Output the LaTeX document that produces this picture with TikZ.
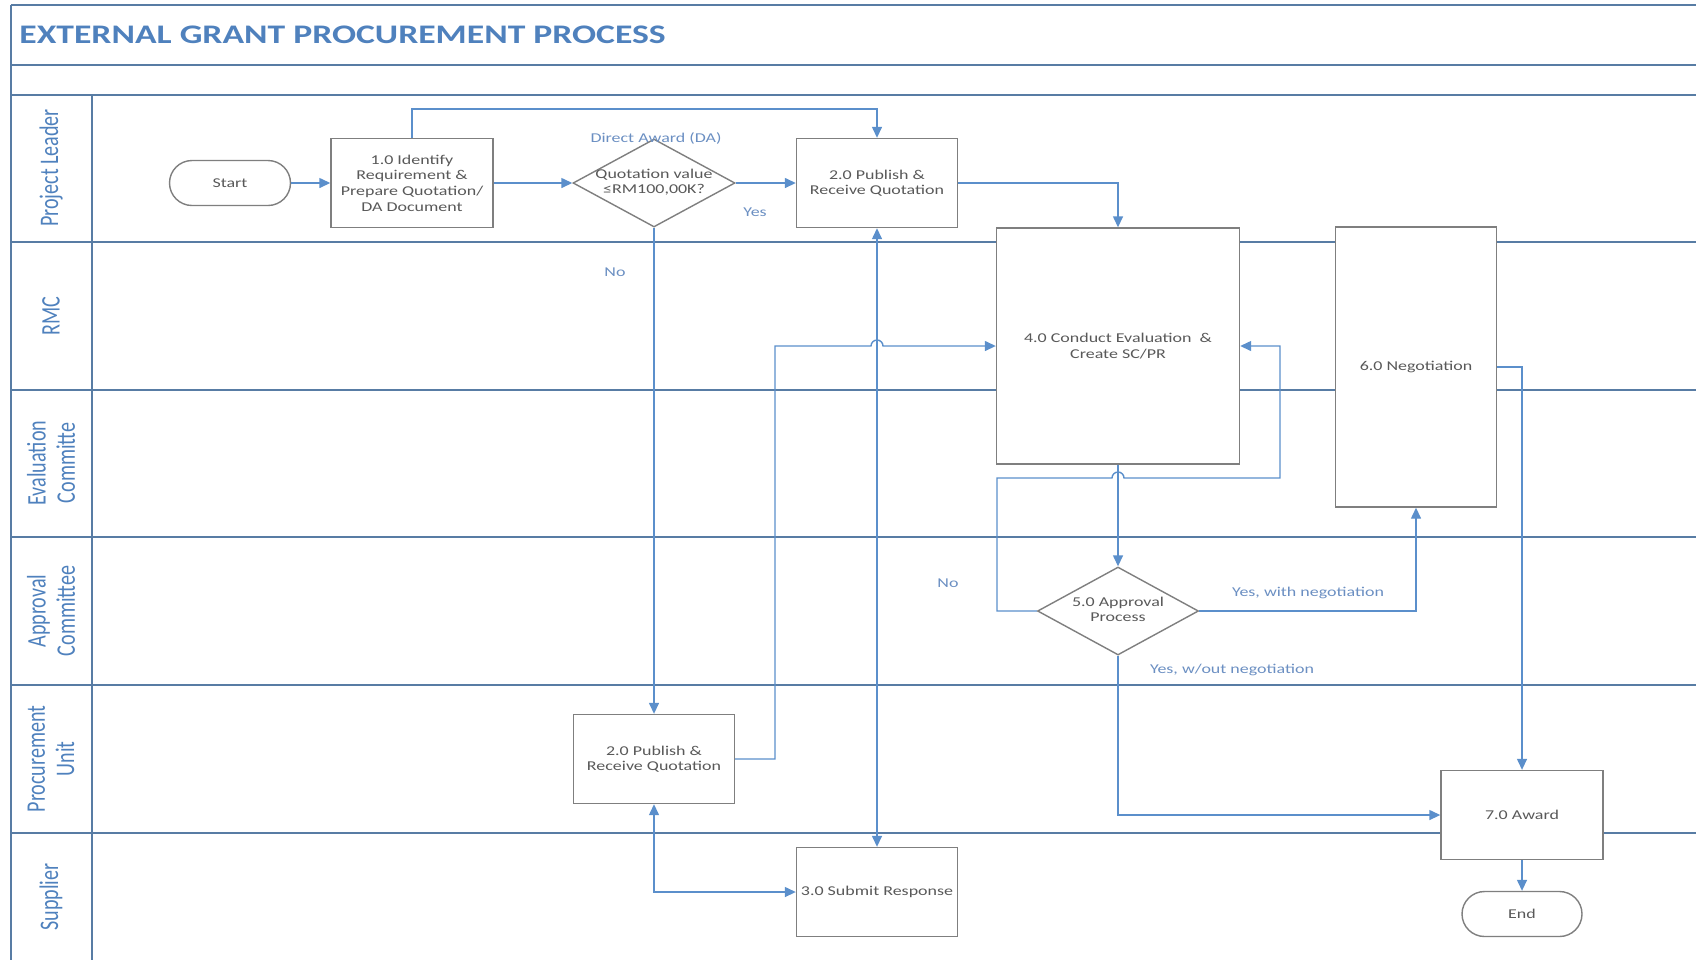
\documentclass[tikz,border=0pt]{standalone}
\usepackage{fontspec}
\usepackage{tikz}
\usetikzlibrary{positioning}
\usetikzlibrary{arrows.meta}
\usetikzlibrary{shapes.geometric,calc}

\newfontfamily\flowfamily{Carlito}[FakeStretch=1.33]
\newfontfamily\lanefamily{Carlito}[FakeStretch=0.75]
\newcommand{\flowfont}{\flowfamily\fontsize{6.75}{7.8}\selectfont}
\newcommand{\lanefont}{\lanefamily\fontsize{13.4}{14.6}\selectfont}
\newcommand{\titlefont}{\flowfamily\bfseries\fontsize{13.4}{16}\selectfont}

\definecolor{laneblue}{HTML}{587CA4}
\definecolor{titleblue}{HTML}{4F81BD}
\definecolor{flowblue}{HTML}{5B8FCB}
\definecolor{boxgrey}{HTML}{7F7F7F}
\definecolor{textgrey}{HTML}{595959}
\definecolor{labelblue}{HTML}{6B8FC2}

\tikzset{
  process/.style={draw=boxgrey, line width=0.7pt, fill=white, text=textgrey,
    font=\flowfont, align=center, inner sep=0pt,
    minimum width=80.5pt, minimum height=44.5pt},
  decision/.style={process, diamond, minimum width=80.5pt, minimum height=44pt},
  terminal/.style={process, rounded corners=11.25pt,
    minimum width=60.5pt, minimum height=22.5pt},
  flow/.style={draw=flowblue, line width=0.7pt, -{Triangle[length=5.5pt,width=5pt]}},
  twoway/.style={flow, {Triangle[length=5.5pt,width=5pt]}-{Triangle[length=5.5pt,width=5pt]}},
  lane/.style={draw=laneblue, line width=1pt},
  flowlabel/.style={text=labelblue, font=\flowfont, inner sep=0pt},
  lanelabel/.style={text=titleblue, font=\lanefont, align=center, rotate=90, inner sep=0pt}
}

\begin{document}
\begin{tikzpicture}[x=0.5pt, y=-0.5pt]

      \useasboundingbox (0,0) rectangle (1696,960);

      % frame and swimlanes
      \draw[lane] (11,5) -- (1696,5);
      \draw[lane] (11,65) -- (1696,65);
      \foreach \LaneY in {95,242,390,537,685,833} {
        \draw[lane] (11,\LaneY) -- (1696,\LaneY);
      }
      \draw[lane] (11,5) -- (11,960);
      \draw[lane] (92,95) -- (92,960);

      \node (title) at (19,35) [anchor=west, text=titleblue, font=\titlefont, inner sep=0pt]
        {EXTERNAL GRANT PROCUREMENT PROCESS};

      \node (laneLeader)   at (51,168) [lanelabel] {Project Leader};
      \node (laneRMC)      at (51,316) [lanelabel] {RMC};
      \node (laneEval)     at (51,463) [lanelabel] {Evaluation\\Committe};
      \node (laneApproval) at (51,611) [lanelabel] {Approval\\Committee};
      \node (laneProcure)  at (51,759) [lanelabel] {Procurement\\Unit};
      \node (laneSupplier) at (51,897) [lanelabel] {Supplier};

      % steps
      \node (start)    at (230,183)  [terminal] {Start};
      \node (ident)    at (412,183)  [process, minimum width=81pt]
        {1.0 Identify\\Requirement \&\\Prepare Quotation/\\DA Document};
      \node (quote)    at (654,183)  [decision, minimum width=81pt]
        {\makebox[0pt]{\begin{tabular}{@{}c@{}}Quotation value\\≤RM100,00K?\end{tabular}}};
      \node (pub)      at (877,183)  [process] {2.0 Publish \&\\Receive Quotation};
      \node (evalbox)  at (1118,346) [process, minimum width=121.5pt, minimum height=118pt]
        {4.0 Conduct Evaluation \ \&\\Create SC/PR};
      \node (nego)     at (1416,367) [process, minimum height=140pt] {6.0 Negotiation};
      \node (approve)  at (1118,611) [decision]
        {\makebox[0pt]{\begin{tabular}{@{}c@{}}5.0 Approval\\Process\end{tabular}}};
      \node (pubproc)  at (654,759)  [process] {2.0 Publish \&\\Receive Quotation};
      \node (submit)   at (877,892)  [process] {3.0 Submit Response};
      \node (award)    at (1522,815) [process, minimum width=81pt] {7.0 Award};
      \node (finish)   at (1522,914) [terminal, minimum width=60pt] {End};

      % connectors
      \coordinate (daTop)  at (412,109);
      \coordinate (bendA)  at (775,346);
      \coordinate (loopA)  at (997,478);
      \coordinate (loopB)  at (1280,478);

      \draw[flow] (start) -- (ident);
      \draw[flow] (ident) -- (quote);
      \draw[flow] (quote) -- (pub);
      \draw[flow] (ident.north) -- (daTop) -| (pub.north);
      \draw[flow] (quote.south) -- (pubproc.north);
      \draw[twoway] (pub.south) -- (submit.north);
      \draw[twoway] (pubproc.south) |- (submit.west);
      \draw[flow] (pubproc.east) -| (bendA)
        -- ($(pub.south |- bendA)+(-6,0)$) arc[start angle=180, end angle=360, radius=6]
        -- (evalbox.west);
      \draw[flow] (pub.east) -| (evalbox.north);
      \draw[flow] (evalbox.south) -- (approve.north);
      \draw[flow] (approve.west) -| (loopA)
        -- ($(evalbox.south |- loopA)+(-6,0)$) arc[start angle=180, end angle=360, radius=6]
        -- (loopB) |- (evalbox.east);
      \draw[flow] (approve.east) -| (nego.south);
      \draw[flow] (approve.south) |- (award.west);
      \draw[flow] (nego.east) -| (award.north);
      \draw[flow] (award) -- (finish);

      % connector labels
      \node (daLabel)    at (656,138)  [flowlabel] {Direct Award (DA)};
      \node (yesLabel)   at (755,212)  [flowlabel] {Yes};
      \node (noLabel)    at (615,272)  [flowlabel] {No};
      \node (rejLabel)   at (948,583)  [flowlabel] {No};
      \node (negoLabel)  at (1308,593) [flowlabel] {Yes, with negotiation};
      \node (plainLabel) at (1232,670) [flowlabel] {Yes, w/out negotiation};

\end{tikzpicture}
\end{document}
